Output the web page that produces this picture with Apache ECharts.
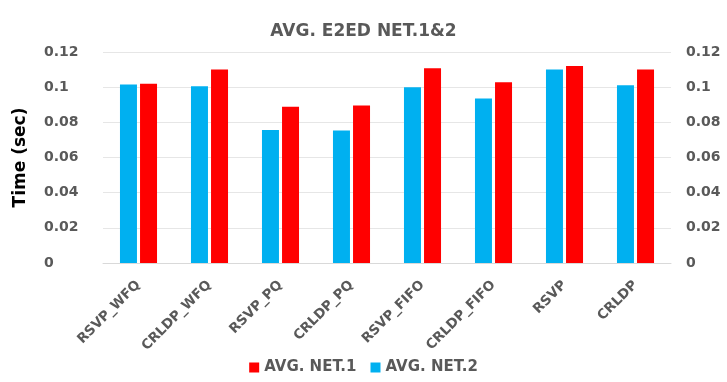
<!DOCTYPE html>
<html>
<head>
<meta charset="utf-8">
<script src="https://cdn.jsdelivr.net/npm/echarts@6/dist/echarts.min.js"></script>
<style>
  html, body { margin: 0; padding: 0; background: #fff; }
  #main { width: 727px; height: 382px; }
</style>
</head>
<body>
<div id="main"></div>
<script>
  // categories + values
  var categories = ['RSVP_WFQ', 'CRLDP_WFQ', 'RSVP_PQ', 'CRLDP_PQ', 'RSVP_FIFO', 'CRLDP_FIFO', 'RSVP', 'CRLDP'];
  var net2 = [0.1015, 0.1005, 0.0757, 0.0753, 0.0999, 0.0936, 0.1101, 0.1011];
  var net1 = [0.1019, 0.1101, 0.0889, 0.0896, 0.1108, 0.1028, 0.1120, 0.1101];
  var yTicks = [0, 0.02, 0.04, 0.06, 0.08, 0.1, 0.12];

  var txtFont = 'DejaVu Sans';
  var grey = '#595959';

  var myChart = echarts.init(document.getElementById('main'));

  var axisLabel = {
    color: grey,
    fontFamily: txtFont,
    fontWeight: 'bold',
    fontSize: 14,
    formatter: function (v) { return String(+v.toFixed(2)); }
  };

  var option = {
    animation: false,
    title: {
      text: 'AVG. E2ED NET.1&2',
      left: 'center',
      top: 18,
      textStyle: { color: grey, fontFamily: txtFont, fontWeight: 'bold', fontSize: 17 }
    },
    legend: {
      data: ['AVG. NET.1', 'AVG. NET.2'],
      bottom: 2,
      left: 'center',
      itemWidth: 10,
      itemHeight: 10,
      itemGap: 14,
      icon: 'rect',
      textStyle: { color: grey, fontFamily: txtFont, fontWeight: 'bold', fontSize: 15 }
    },
    grid: { left: 103, right: 56, top: 52, bottom: 119 },
    xAxis: {
      type: 'category',
      data: categories,
      axisLine: { lineStyle: { color: '#d9d9d9' } },
      axisTick: { show: false },
      axisLabel: {
        rotate: 45,
        interval: 0,
        margin: 20,
        color: grey,
        fontFamily: txtFont,
        fontWeight: 'bold',
        fontSize: 13.5
      }
    },
    yAxis: [
      {
        type: 'value',
        min: 0, max: 0.12, interval: 0.02,
        name: 'Time (sec)',
        nameLocation: 'middle',
        nameGap: 74,
        nameRotate: 90,
        nameTextStyle: { color: '#000', fontFamily: txtFont, fontWeight: 'bold', fontSize: 17 },
        axisLine: { show: false },
        axisTick: { show: false },
        axisLabel: Object.assign({ margin: 59, align: 'left' }, axisLabel),
        splitLine: { lineStyle: { color: '#e6e6e6' } }
      },
      {
        type: 'value',
        min: 0, max: 0.12, interval: 0.02,
        position: 'right',
        axisLine: { show: false },
        axisTick: { show: false },
        axisLabel: Object.assign({ margin: 15 }, axisLabel),
        splitLine: { show: false }
      }
    ],
    series: [
      {
        name: 'AVG. NET.2',
        type: 'bar',
        data: net2,
        barWidth: 17,
        barGap: '18%',
        itemStyle: { color: '#00B0F0' }
      },
      {
        name: 'AVG. NET.1',
        type: 'bar',
        data: net1,
        barWidth: 17,
        barGap: '18%',
        itemStyle: { color: '#FF0000' }
      }
    ]
  };

  myChart.setOption(option);
  window.addEventListener('resize', function () { myChart.resize(); });
</script>
</body>
</html>
